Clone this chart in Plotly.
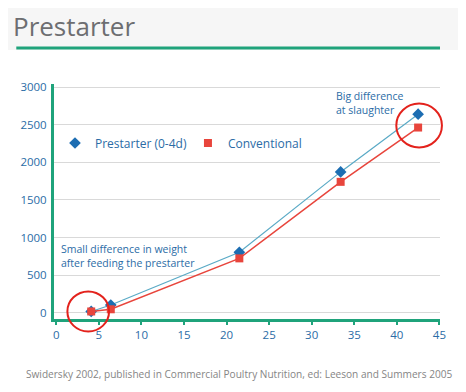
import plotly.graph_objects as go

days = [4.1, 6.4, 21.5, 33.4, 42.5]
prestarter = [20, 106, 805, 1873, 2639]
conventional = [20, 49, 725, 1741, 2462]
x_ticks = [0, 5, 10, 15, 20, 25, 30, 35, 40, 45]
y_ticks = [0, 500, 1000, 1500, 2000, 2500, 3000]

BLUE_TXT = "#2b6ca6"
BLUE_MK = "#1c6db2"
BLUE_LN = "#5aaac6"
RED = "#e8453c"
CIRCLE = "#e3221c"
GREEN = "#1fa37b"
FONT = "Open Sans"

# page body has an 8px margin; figure sits at (8, 8) in the window
OFF = 8
W, H = 466 - OFF, 392 - OFF
# plot area in window pixels
PL, PR, PT, PB = 51, 440, 84, 319
L, R, T, B = PL - OFF, W - (PR - OFF), PT - OFF, H - (PB - OFF)
pw = PR - PL
ph = PB - PT
XR = [-0.27, 45.07]
YR = [-80, 3040]


def px(xp):
    return (xp - PL) / pw


def py(yp):
    return (PB - yp) / ph


def data_to_win(x, y):
    wx = PL + (x - XR[0]) / (XR[1] - XR[0]) * pw
    wy = PB - (y - YR[0]) / (YR[1] - YR[0]) * ph
    return wx, wy


def ring(x, y, dx, dy, rx, ry):
    cx, cy = data_to_win(x, y)
    cx += dx
    cy += dy
    return dict(type="circle", xref="paper", yref="paper",
                x0=px(cx - rx), x1=px(cx + rx), y0=py(cy + ry), y1=py(cy - ry),
                line=dict(color=CIRCLE, width=2))


fig = go.Figure()
fig.add_trace(go.Scatter(x=days, y=prestarter, mode="lines+markers",
                         line=dict(color=BLUE_LN, width=1.2),
                         marker=dict(symbol="diamond", size=9, color=BLUE_MK),
                         showlegend=False))
fig.add_trace(go.Scatter(x=days, y=conventional, mode="lines+markers",
                         line=dict(color=RED, width=1.5),
                         marker=dict(symbol="square", size=8, color=RED),
                         showlegend=False))
fig.add_trace(go.Scatter(x=[None], y=[None], mode="markers", name="Prestarter (0-4d)",
                         marker=dict(symbol="diamond", size=9, color=BLUE_MK),
                         legend="legend"))
fig.add_trace(go.Scatter(x=[None], y=[None], mode="markers", name="Conventional",
                         marker=dict(symbol="square", size=8, color=RED),
                         legend="legend2"))

legend_common = dict(orientation="h", bgcolor="rgba(0,0,0,0)",
                     font=dict(family=FONT, size=12, color=BLUE_TXT),
                     yanchor="middle", xanchor="left")

fig.update_layout(
    width=W, height=H,
    margin=dict(l=L, r=R, t=T, b=B),
    paper_bgcolor="white", plot_bgcolor="white",
    font=dict(family=FONT, color=BLUE_TXT),
    legend=dict(x=px(52), y=py(143), **legend_common),
    legend2=dict(x=px(186), y=py(143), **legend_common),
    xaxis=dict(range=XR, tickvals=x_ticks, showgrid=False, zeroline=False,
               showline=True, linecolor=GREEN, linewidth=3,
               ticks="outside", ticklen=3, tickwidth=2, tickcolor=GREEN,
               tickfont=dict(family=FONT, size=11.5, color=BLUE_TXT)),
    yaxis=dict(range=YR, tickvals=y_ticks, showgrid=True, gridcolor="#d9d9d9",
               gridwidth=1, zeroline=False, showline=True, linecolor=GREEN, linewidth=3,
               ticks="", ticklabelstandoff=2,
               tickfont=dict(family=FONT, size=11.5, color=BLUE_TXT)),
    shapes=[
        dict(type="rect", xref="paper", yref="paper", x0=px(0), x1=px(466), y0=py(0), y1=py(50),
             fillcolor="#f6f6f6", line=dict(width=0), layer="below"),
        dict(type="line", xref="paper", yref="paper", x0=px(13), x1=px(440), y0=py(48), y1=py(48),
             line=dict(color=GREEN, width=3)),
        ring(days[0], conventional[0], -3, 0, 21, 20),
        ring(days[-1], conventional[-1], 1, -2, 23, 22),
    ],
    annotations=[
        dict(text="Prestarter", xref="paper", yref="paper", x=px(8), y=py(26),
             xanchor="left", yanchor="middle", showarrow=False,
             font=dict(family=FONT, size=26, color="#6d6e71")),
        dict(text="Big difference<br>at slaughter", xref="paper", yref="paper",
             x=px(333), y=py(103.5), xanchor="left", yanchor="middle", align="left",
             showarrow=False, font=dict(family=FONT, size=10.5, color=BLUE_TXT)),
        dict(text="Small difference in weight<br>after feeding the prestarter", xref="paper",
             yref="paper", x=px(56), y=py(256), xanchor="left", yanchor="middle", align="left",
             showarrow=False, font=dict(family=FONT, size=10.5, color=BLUE_TXT)),
        dict(text="Swidersky 2002, published in Commercial Poultry Nutrition, ed: Leeson and Summers 2005",
             xref="paper", yref="paper", x=px(237), y=py(374), xanchor="center", yanchor="middle",
             showarrow=False, font=dict(family=FONT, size=10.1, color="#858585")),
    ],
)

fig.write_html("out.html")
